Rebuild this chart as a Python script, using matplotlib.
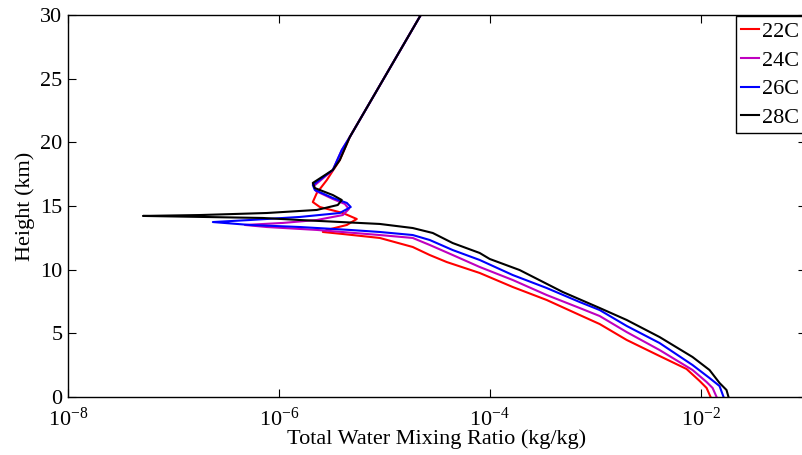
import matplotlib
matplotlib.use("Agg")
import matplotlib.pyplot as plt
import numpy as np

plt.rcParams["font.family"] = ["Liberation Serif", "DejaVu Serif"]
plt.rcParams["mathtext.fontset"] = "custom"
plt.rcParams["mathtext.rm"] = "Liberation Serif"
plt.rcParams["mathtext.it"] = "Liberation Serif:italic"

# heights (km) and log10 of total water mixing ratio (kg/kg)
h_22 = [30.0, 20.42, 18.61, 17.04, 16.02, 15.31, 14.92, 14.45, 13.98, 13.51, 13.12,
        12.96, 12.80, 12.49, 11.78, 11.15, 10.60, 9.74, 8.64, 7.62, 6.44, 5.73,
        4.48, 3.22, 2.20, 1.26, 0.71, 0.0]
lq_22 = [-4.654, -5.327, -5.422, -5.545, -5.640, -5.678, -5.611, -5.393, -5.261, -5.355,
         -5.545, -5.583, -5.393, -5.043, -4.730, -4.569, -4.408, -4.095, -3.782, -3.460,
         -3.147, -2.957, -2.701, -2.389, -2.133, -2.009, -1.943, -1.905]

h_24 = [30.0, 20.42, 19.40, 17.83, 16.57, 16.18, 15.55, 15.16, 14.76, 14.29, 13.90,
        13.67, 13.51, 13.35, 13.12, 12.72, 12.49, 11.94, 11.15, 10.21, 9.19, 8.01,
        6.99, 6.36, 5.10, 3.69, 2.12, 1.18, 0.71, 0.0]
lq_24 = [-4.654, -5.327, -5.403, -5.488, -5.668, -5.649, -5.488, -5.374, -5.336, -5.393,
         -5.640, -5.962, -6.322, -6.114, -5.640, -5.043, -4.730, -4.569, -4.351, -4.095,
         -3.782, -3.460, -3.147, -2.957, -2.701, -2.389, -2.076, -1.943, -1.886, -1.848]

h_26 = [30.0, 20.42, 19.40, 17.83, 16.65, 16.26, 15.63, 15.24, 14.92, 14.45, 14.14,
        13.90, 13.74, 13.51, 13.35, 13.12, 12.96, 12.72, 12.33, 11.54, 10.76, 9.58,
        8.56, 7.46, 6.83, 5.58, 4.24, 2.51, 1.49, 0.86, 0.0]
lq_26 = [-4.654, -5.327, -5.403, -5.488, -5.678, -5.659, -5.488, -5.355, -5.318, -5.422,
         -5.801, -6.275, -6.626, -6.275, -5.801, -5.327, -5.043, -4.730, -4.569, -4.351,
         -4.095, -3.782, -3.460, -3.147, -2.957, -2.701, -2.389, -2.076, -1.915, -1.820,
         -1.782]

h_28 = [30.0, 20.42, 18.61, 17.83, 16.81, 16.41, 15.86, 15.47, 15.08, 14.69, 14.45,
        14.29, 14.22, 14.06, 13.90, 13.59, 13.27, 12.88, 12.09, 11.31, 10.84, 9.97,
        8.25, 6.99, 6.05, 4.71, 3.14, 2.12, 1.10, 0.55, 0.0]
lq_28 = [-4.654, -5.327, -5.422, -5.488, -5.678, -5.659, -5.488, -5.403, -5.441, -5.640,
         -6.114, -6.749, -7.289, -6.152, -5.801, -5.043, -4.730, -4.540, -4.351, -4.095,
         -4.000, -3.716, -3.308, -2.957, -2.701, -2.389, -2.076, -1.915, -1.820, -1.754,
         -1.735]

labels = ["22C", "24C", "26C", "28C"]
colors = ["#ff0000", "#bf00bf", "#0000ff", "#000000"]

fig = plt.figure(figsize=(8.03, 4.55), dpi=100)
ax = fig.add_axes([68 / 803, 58 / 455, 738 / 803, 382 / 455])

for h, lq, lab, c in zip([h_22, h_24, h_26, h_28], [lq_22, lq_24, lq_26, lq_28], labels, colors):
    ax.plot(10.0 ** np.array(lq), h, color=c, lw=1.5, label=lab)

ax.set_xscale("log")
ax.set_xlim(1e-8, 1e-1)
ax.set_ylim(0, 30)
ax.set_xticks([1e-8, 1e-6, 1e-4, 1e-2])
ax.set_xticklabels([r"$10^{-8}$", r"$10^{-6}$", r"$10^{-4}$", r"$10^{-2}$"])
ax.set_yticks([0, 5, 10, 15, 20, 25, 30])
ax.minorticks_off()
ax.tick_params(direction="in", top=True, right=True, length=6, width=0.8,
               labelsize=16)
ax.tick_params(axis="x", pad=7.5)
ax.tick_params(axis="y", pad=4)
for s in ax.spines.values():
    s.set_linewidth(1.0)

ax.set_xlabel("Total Water Mixing Ratio (kg/kg)", fontsize=16, labelpad=-1)
ax.set_ylabel("Height (km)", fontsize=16, labelpad=4)

leg = ax.legend(loc="upper right", fontsize=16, frameon=True, fancybox=False,
                edgecolor="black", framealpha=1, borderaxespad=0.05,
                handlelength=0.8, handletextpad=0.15, labelspacing=0.36,
                borderpad=0.25)
leg.get_frame().set_linewidth(1.0)

fig.savefig("out.png", dpi=100)
